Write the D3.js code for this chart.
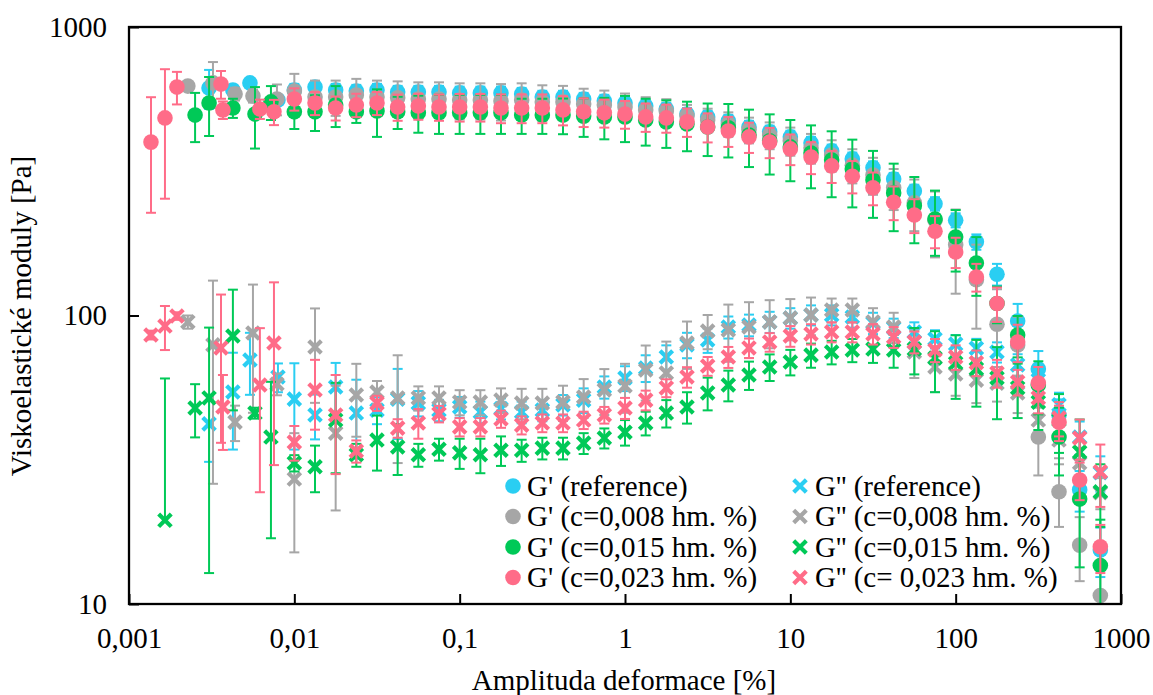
<!DOCTYPE html>
<html><head><meta charset="utf-8">
<script src="https://cdn.jsdelivr.net/npm/d3@7"></script>
<style>
body{margin:0;background:#fff}
text{font-family:"Liberation Serif","Times New Roman",serif;fill:#000}
</style>
</head><body>
<svg id="chart" width="1153" height="695"></svg>
<script>
// ---- DATA ----
const xTickValues = [0.001, 0.01, 0.1, 1, 10, 100, 1000];
const xTickLabels = ["0,001", "0,01", "0,1", "1", "10", "100", "1000"];
const yTickValues = [10, 100, 1000];
const yTickLabels = ["10", "100", "1000"];

// common strain grid (8 points per decade, 0.01 .. 750 %)
const strainGrid = [0.01, 0.01334, 0.01778, 0.02371, 0.03162, 0.04217, 0.05623, 0.07499,
  0.1, 0.1334, 0.1778, 0.2371, 0.3162, 0.4217, 0.5623, 0.7499,
  1, 1.334, 1.778, 2.371, 3.162, 4.217, 5.623, 7.499,
  10, 13.34, 17.78, 23.71, 31.62, 42.17, 56.23, 74.99,
  100, 133.4, 177.8, 237.1, 316.2, 421.7, 562.3, 749.9];

// low-amplitude strains (measured, irregular)
const strainLowRef = [0.00305, 0.00425, 0.00539, 0.00796];
const strainLow008 = [0.00227, 0.00322, 0.00438, 0.00562, 0.00785];
const strainLow015 = [0.00165, 0.00251, 0.00305, 0.00425, 0.00578, 0.00722];
const strainLow023 = [0.001358, 0.00165, 0.00195, 0.00360, 0.00370, 0.00619, 0.00753];

// reference
const gpRef = [615, 605, 640, 558, 605, 619, 605, 600, 605, 595, 595, 595, 591, 591, 591, 586, 572, 572, 563, 554, 545, 532, 520, 499, 488, 472, 450, 433, 416, 396, 372, 349, 325, 297, 270, 244, 214, 180, 139, 95.7, 65.3, 45.2, 24.9, 15.4];
const gpRefSd = [95, 25, 25, 20, 30, 31, 30, 30, 30, 30, 30, 30, 30, 30, 30, 29, 29, 29, 28, 28, 27, 27, 26, 25, 24, 24, 23, 22, 21, 20, 19, 18, 17, 15, 14, 13, 12, 11, 12, 14, 10, 6, 4, 3];
const gppRef = [42.1, 54.3, 70.1, 61.2, 51.3, 45.2, 56.5, 45.9, 47.0, 51.3, 49.7, 47.0, 48.2, 46.3, 47.6, 46.3, 47.0, 49.0, 50.9, 56.5, 60.7, 65.8, 71.8, 79.1, 82.2, 91.2, 92.7, 95.0, 98.0, 100.4, 100.4, 98.8, 94.2, 90.5, 87.7, 82.9, 79.6, 77.0, 74.7, 67.4, 59.7, 49.0, 37.9, 28.5];
const gppRefSd = [11, 20, 17, 7, 17, 8, 12, 14, 5, 14, 5, 4, 4, 4, 4, 4, 4, 4, 5, 5, 6, 7, 7, 8, 8, 8, 8, 8, 8, 8, 8, 8, 8, 7, 7, 6, 6, 6, 6, 6, 6, 5, 5, 4];

// c = 0,008 hm. %
const gp008 = [624, 640, 586, 577, 563, 600, 572, 572, 581, 572, 568, 563, 563, 558, 558, 554, 558, 550, 550, 541, 537, 528, 516, 512, 492, 476, 461, 440, 422, 403, 381, 360, 332, 307, 277, 246, 214, 176, 133, 93.3, 79, 37.9, 24.5, 16.0, 10.7];
const gp008Sd = [20, 116, 30, 30, 69, 88, 80, 80, 80, 80, 80, 80, 80, 80, 80, 80, 80, 78, 75, 70, 65, 60, 55, 50, 45, 45, 45, 45, 45, 45, 45, 45, 45, 45, 45, 50, 55, 57, 43, 30, 20, 10, 6, 4, 3];
const gpp008 = [95.0, 79.1, 42.7, 87.0, 57.9, 27.1, 77.8, 39.1, 53.0, 54.3, 51.8, 51.8, 51.8, 50.1, 50.1, 50.9, 49.7, 49.7, 50.1, 52.2, 55.2, 57.0, 64.7, 63.2, 80.3, 88.4, 89.1, 91.2, 95.0, 98.0, 100.4, 104.5, 104.5, 95.0, 91.2, 74.7, 66.3, 62.7, 59.7, 58.3, 53.9, 43.4, 37.0, 30.8, 24.3];
const gpp008Sd = [5, 53, 6, 41, 5, 12, 28, 18, 15, 5, 21, 5, 5, 5, 5, 5, 6, 6, 7, 8, 10, 11, 14, 18, 15, 12, 20, 20, 18, 16, 15, 10, 10, 11, 11, 14, 12, 10, 10, 8, 8, 6, 5, 4, 3];

// c = 0,015 hm. %
const gp015 = [null, 495, 545, 524, 499, 550, 508, 508, 537, 508, 512, 508, 504, 504, 504, 504, 504, 495, 495, 495, 491, 488, 488, 476, 469, 461, 450, 447, 422, 403, 384, 366, 346, 322, 295, 266, 240, 216, 187, 152, 110, 85.6, 57.4, 37.9, 23.1, 13.6];
const gp015Sd = [null, 96, 126, 40, 120, 74, 65, 72, 87, 43, 96, 65, 74, 78, 78, 78, 78, 69, 69, 70, 75, 80, 89, 88, 88, 90, 93, 94, 95, 95, 92, 90, 89, 85, 77, 70, 62, 55, 45, 35, 16, 14, 12, 10, 9.7, 6];
const gpp015 = [19.5, 47.8, 51.8, 84.9, 45.9, 37.9, 30.8, 29.9, 43.4, 32.9, 37.0, 35.0, 32.9, 34.4, 33.4, 32.9, 34.1, 34.1, 34.7, 34.7, 36.1, 37.6, 39.4, 42.4, 45.9, 48.2, 53.9, 57.4, 62.2, 66.3, 69.0, 72.9, 74.7, 75.9, 76.5, 75.9, 76.5, 71.2, 68.4, 65.3, 60.7, 56.1, 50.1, 43.4, 33.6, 24.5];
const gpp015Sd = [41, 10, 39, 38, 2, 21, 2, 5.5, 15, 3, 8, 7, 3, 3, 4, 4.5, 4, 3, 3, 3, 3, 3, 4, 4, 5, 6, 7, 7, 7, 7, 7, 7, 7, 7, 8, 10, 14, 17, 17, 17, 17, 12, 10, 10, 10, 6];

// c = 0,023 hm. %
const gp023 = [399, 484, 619, 634, 516, 520, 508, 563, 545, 524, 537, 545, 528, 532, 528, 528, 528, 524, 524, 524, 516, 508, 504, 499, 488, 484, 469, 450, 436, 416, 399, 378, 354, 330, 304, 277, 247, 223, 196, 166, 136, 110, 80.9, 58.3, 42.7, 26.9, 15.8];
const gp023Sd = [172, 230, 80, 70, 36, 40, 51, 50, 50, 50, 50, 50, 55, 55, 55, 58, 58, 60, 60, 60, 60, 58, 56, 55, 55, 54, 53, 52, 52, 50, 48, 46, 45, 42, 39, 36, 33, 30, 25, 20, 15, 15, 12, 8, 6, 4, 3];
const gpp023 = [85.6, 91.9, 99.6, 77.2, 48.2, 57.4, 80.3, 36.4, 55.2, 45.2, 33.9, 49.7, 40.7, 42.4, 45.6, 41.1, 41.1, 43.8, 41.7, 42.4, 42.4, 43.4, 45.2, 47.8, 50.9, 56.1, 61.2, 66.8, 71.8, 77.2, 80.9, 84.9, 86.3, 87.7, 87.7, 86.3, 84.2, 80.9, 75.9, 71.8, 68.6, 63.2, 58.8, 51.8, 44.1, 37.6, 28.7];
const gpp023Sd = [3, 16, 3, 41, 14, 33, 50, 5, 15, 17, 3, 3, 3, 5, 3, 3, 3, 3, 3, 3, 3, 3, 3, 4, 4, 4, 5, 5, 6, 6, 6, 7, 7, 7, 7, 7, 7, 7, 7, 7, 7, 7, 6, 6, 6, 6, 7];

const seriesNames = ["G' (reference)", "G'' (reference)",
  "G' (c=0,008 hm. %)", "G'' (c=0,008 hm. %)",
  "G' (c=0,015 hm. %)", "G'' (c=0,015 hm. %)",
  "G' (c=0,023 hm. %)", "G'' (c= 0,023 hm. %)"];
const seriesColors = ["#2ACEF2", "#2ACEF2", "#A6A6A6", "#A6A6A6", "#00C957", "#00C957", "#FF6C88", "#FF6C88"];

// ---- BUILD ----
const xRef = strainLowRef.concat(strainGrid);
const x008 = strainLow008.concat(strainGrid);
const x015 = strainLow015.concat(strainGrid);
const x023 = strainLow023.concat(strainGrid);

const seriesDefs = [
  {x: xRef, v: gpRef, sd: gpRefSd, shape: "circle"},
  {x: xRef, v: gppRef, sd: gppRefSd, shape: "cross"},
  {x: x008, v: gp008, sd: gp008Sd, shape: "circle"},
  {x: x008, v: gpp008, sd: gpp008Sd, shape: "cross"},
  {x: x015, v: gp015, sd: gp015Sd, shape: "circle"},
  {x: x015, v: gpp015, sd: gpp015Sd, shape: "cross"},
  {x: x023, v: gp023, sd: gp023Sd, shape: "circle"},
  {x: x023, v: gpp023, sd: gpp023Sd, shape: "cross"}
].map((s, i) => ({...s, name: seriesNames[i], color: seriesColors[i],
  pts: s.x.map((xx, j) => ({x: xx, v: s.v[j], sd: s.sd[j]})).filter(p => p.v != null)}));

const L = 129, R = 1121, T = 27, B = 604;
const x = d3.scaleLog().domain([0.001, 1000]).range([L, R]);
const y = d3.scaleLog().domain([10, 1000]).range([B, T]);

const svg = d3.select("#chart");
svg.append("rect").attr("width", 1153).attr("height", 695).attr("fill", "#fff");

svg.append("defs").append("clipPath").attr("id", "plotclip")
  .append("rect").attr("x", L).attr("y", T).attr("width", R - L).attr("height", B - T);

// axes
const xAxis = d3.axisBottom(x).tickValues(xTickValues)
  .tickFormat((d, i) => xTickLabels[i]).tickSizeInner(-10).tickSizeOuter(0).tickPadding(23);
const gx = svg.append("g").attr("transform", `translate(0,${B})`).call(xAxis);
gx.select(".domain").remove();
gx.selectAll(".tick line").attr("stroke", "#000").attr("stroke-width", 2);
gx.selectAll(".tick text").attr("font-size", 29).attr("font-family", "Liberation Serif");

const yAxis = d3.axisLeft(y).tickValues(yTickValues)
  .tickFormat((d, i) => yTickLabels[i]).tickSizeInner(-10).tickSizeOuter(0).tickPadding(22);
const gy = svg.append("g").attr("transform", `translate(${L},0)`).call(yAxis);
gy.select(".domain").remove();
gy.selectAll(".tick line").attr("stroke", "#000").attr("stroke-width", 2);
gy.selectAll(".tick text").attr("font-size", 29).attr("font-family", "Liberation Serif");

// data
const plot = svg.append("g").attr("clip-path", "url(#plotclip)");
const cap = 5;
seriesDefs.forEach(s => {
  const g = plot.append("g");
  const eb = g.append("g").attr("stroke", s.color).attr("stroke-width", 2).attr("fill", "none");
  s.pts.forEach(p => {
    if (!p.sd) return;
    const cx = x(p.x);
    const hi = y(p.v + p.sd);
    const lo = (p.v - p.sd) > 0 ? y(p.v - p.sd) : null;
    const cy = y(p.v);
    eb.append("line").attr("x1", cx).attr("x2", cx).attr("y1", hi).attr("y2", lo == null ? cy : lo);
    eb.append("line").attr("x1", cx - cap).attr("x2", cx + cap).attr("y1", hi).attr("y2", hi);
    if (lo != null) eb.append("line").attr("x1", cx - cap).attr("x2", cx + cap).attr("y1", lo).attr("y2", lo);
  });
  if (s.shape === "circle") {
    g.selectAll("circle").data(s.pts).join("circle")
      .attr("cx", d => x(d.x)).attr("cy", d => y(d.v)).attr("r", 7.8).attr("fill", s.color);
  } else {
    g.selectAll("path.m").data(s.pts).join("path").attr("class", "m")
      .attr("d", d => { const cx = x(d.x), cy = y(d.v), h = 6.3;
        return `M${cx-h},${cy-h}L${cx+h},${cy+h}M${cx-h},${cy+h}L${cx+h},${cy-h}`; })
      .attr("stroke", s.color).attr("stroke-width", 4.2).attr("fill", "none");
  }
});

// frame
svg.append("rect").attr("x", L).attr("y", T).attr("width", R - L).attr("height", B - T)
  .attr("fill", "none").attr("stroke", "#000").attr("stroke-width", 2.3);

// legend
const legRows = [486, 516.5, 547, 577.5];
const legCols = [{mx: 513, tx: 527}, {mx: 800, tx: 815}];
const leg = svg.append("g");
seriesDefs.forEach((s, i) => {
  const col = legCols[i % 2], row = legRows[Math.floor(i / 2)];
  if (s.shape === "circle") {
    leg.append("circle").attr("cx", col.mx).attr("cy", row).attr("r", 7.8).attr("fill", s.color);
  } else {
    const h = 6.3;
    leg.append("path").attr("d", `M${col.mx-h},${row-h}L${col.mx+h},${row+h}M${col.mx-h},${row+h}L${col.mx+h},${row-h}`)
      .attr("stroke", s.color).attr("stroke-width", 4.2).attr("fill", "none");
  }
  leg.append("text").attr("x", col.tx).attr("y", row).attr("dy", "0.33em")
    .attr("font-size", 29).text(s.name);
});

// titles
svg.append("text").attr("x", 624).attr("y", 690).attr("text-anchor", "middle")
  .attr("font-size", 29).text("Amplituda deformace [%]");
svg.append("text").attr("transform", "translate(31,316) rotate(-90)").attr("text-anchor", "middle")
  .attr("font-size", 29).text("Viskoelastické moduly [Pa]");
</script>
</body></html>
